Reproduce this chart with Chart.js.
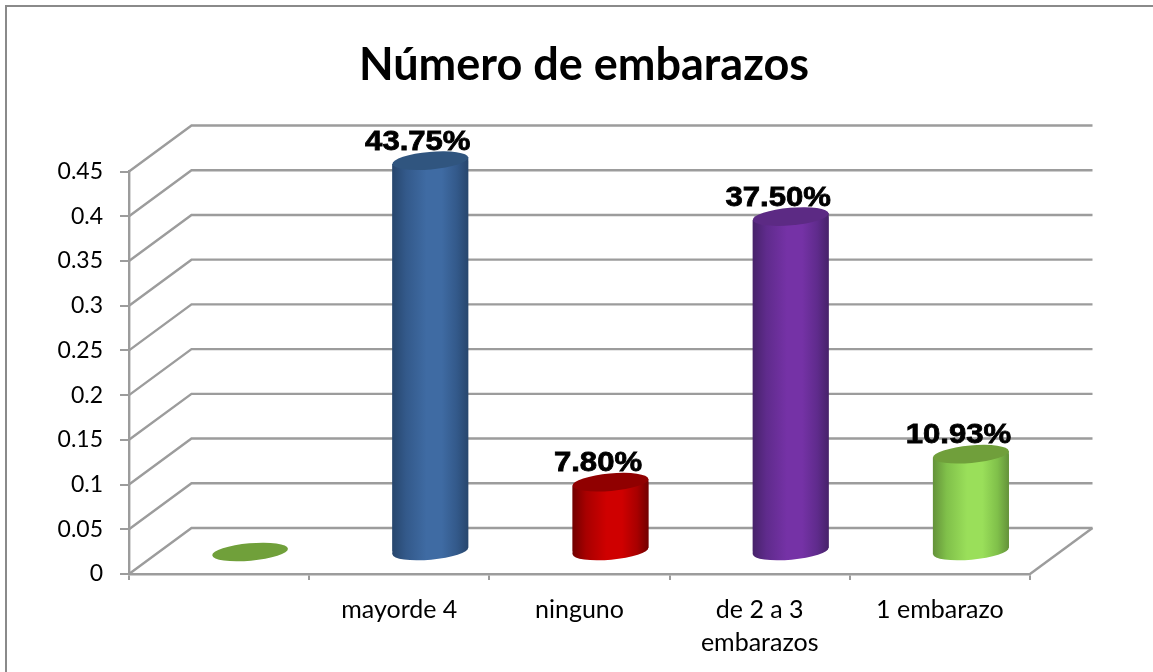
<!DOCTYPE html>
<html>
<head>
<meta charset="utf-8">
<style>html,body{margin:0;padding:0;background:#fff}canvas{display:block}</style>
<script src="https://cdn.jsdelivr.net/npm/chart.js@4"></script>
</head>
<body>
<div style="width:1153px;height:672px"><canvas id="c" width="1153" height="672"></canvas></div>
<script>
const categories = ['', 'mayorde 4', 'ninguno', ['de 2 a 3', 'embarazos'], '1 embarazo'];
const values = [0, 0.4375, 0.078, 0.375, 0.1093];
const valueLabels = ['', '43.75%', '7.80%', '37.50%', '10.93%'];
const edgeColors = ['#6b9a38', '#27466d', '#720000', '#47226a', '#64923a'];
const midColors = ['#6fa03a', '#33598a', '#a80000', '#5f2b8c', '#80c04a'];
const lightColors = ['#70a03a', '#3f6ba3', '#cf0000', '#7532a6', '#9adf5a'];
const topColors = ['#70a03a', '#30557f', '#900000', '#5c2a84', '#709f3b'];
const tickColor = '#9c9c9c';
const fontFamily = 'Lato, "Open Sans", sans-serif';
const depthX = 62.5, depthY = -46, barDx = 31, barDy = -22, rx = 38, ry = 8.8, tilt = -5 * Math.PI / 180;
const endDy = 3.3;

function barGradient(ctx, xl, xr, i) {
  const g = ctx.createLinearGradient(xl, 0, xr, 0);
  g.addColorStop(0, edgeColors[i]);
  g.addColorStop(0.18, midColors[i]);
  g.addColorStop(0.45, lightColors[i]);
  g.addColorStop(0.65, lightColors[i]);
  g.addColorStop(0.85, midColors[i]);
  g.addColorStop(1, edgeColors[i]);
  return g;
}
function bodyPath(ctx, el) {
  const xl = el.x - rx, xr = el.x + rx;
  ctx.moveTo(xl, el.y + endDy);
  ctx.lineTo(xr, el.y - endDy);
  ctx.lineTo(xr, el.base - endDy);
  ctx.lineTo(xl, el.base + endDy);
  ctx.closePath();
}
const cylinder3d = {
  id: 'cylinder3d',
  beforeDraw(chart) {
    const ctx = chart.ctx;
    ctx.save();
    ctx.strokeStyle = '#8a8a8a';
    ctx.lineWidth = 2;
    ctx.beginPath();
    ctx.moveTo(6, 672);
    ctx.lineTo(6, 6);
    ctx.lineTo(1153, 6);
    ctx.stroke();
    ctx.restore();
  },
  beforeDatasetsDraw(chart) {
    const ctx = chart.ctx, y = chart.scales.y, a = chart.chartArea;
    ctx.save();
    ctx.strokeStyle = tickColor;
    ctx.lineWidth = 2.4;
    y.ticks.forEach(t => {
      const py = y.getPixelForValue(t.value);
      ctx.beginPath();
      ctx.moveTo(a.left, py);
      ctx.lineTo(a.left + depthX, py + depthY);
      ctx.lineTo(a.right + depthX, py + depthY);
      ctx.stroke();
    });
    ctx.beginPath();
    ctx.moveTo(a.right, a.bottom);
    ctx.lineTo(a.right + depthX, a.bottom + depthY);
    ctx.stroke();
    ctx.restore();
  },
  beforeDatasetDraw(chart, args) {
    const ctx = chart.ctx;
    ctx.save();
    ctx.translate(barDx, barDy);
    args.meta.data.forEach((el, i) => {
      if (!values[i]) return;
      ctx.fillStyle = barGradient(ctx, el.x - rx, el.x + rx, i);
      ctx.beginPath();
      bodyPath(ctx, el);
      ctx.fill();
      ctx.beginPath();
      ctx.ellipse(el.x, el.base, rx, ry, tilt, 0, Math.PI * 2);
      ctx.fill();
    });
    ctx.beginPath();
    args.meta.data.forEach((el, i) => {
      if (!values[i]) return;
      bodyPath(ctx, el);
    });
    ctx.clip();
  },
  afterDatasetDraw(chart, args) {
    const ctx = chart.ctx;
    ctx.restore();
    ctx.save();
    ctx.translate(barDx, barDy);
    args.meta.data.forEach((el, i) => {
      ctx.fillStyle = topColors[i];
      ctx.beginPath();
      ctx.ellipse(el.x, el.y, rx, ry, tilt, 0, Math.PI * 2);
      ctx.fill();
    });
    ctx.restore();
    args.meta.data.forEach((el, i) => {
      if (!valueLabels[i]) return;
      ctx.save();
      ctx.translate(el.x + barDx - 12.5, el.y + barDy - 11);
      ctx.scale(1.11, 1);
      ctx.font = 'bold 28px "Liberation Sans", Arial, sans-serif';
      ctx.textAlign = 'center';
      ctx.textBaseline = 'alphabetic';
      ctx.fillStyle = '#000';
      ctx.strokeStyle = '#000';
      ctx.lineWidth = 0.8;
      ctx.strokeText(valueLabels[i], 0, 0);
      ctx.fillText(valueLabels[i], 0, 0);
      ctx.restore();
    });
  },
  afterLayout(chart) {
    if (chart.titleBlock) { chart.titleBlock.left += 69; chart.titleBlock.right += 69; }
  }
};

new Chart(document.getElementById('c'), {
  type: 'bar',
  data: {
    labels: categories,
    datasets: [{
      data: values,
      clip: false,
      borderWidth: 0,
      barPercentage: 76 / 180,
      categoryPercentage: 1,
      backgroundColor(c) {
        const x = c.chart.scales.x;
        if (!x || c.dataIndex === undefined) return '#888';
        const px = x.getPixelForValue(c.dataIndex);
        if (!Number.isFinite(px)) return '#888';
        return barGradient(c.chart.ctx, px - rx, px + rx, c.dataIndex);
      }
    }]
  },
  plugins: [cylinder3d],
  options: {
    responsive: false,
    animation: false,
    layout: { padding: { left: 0, right: 123, top: 0, bottom: 0 } },
    plugins: {
      legend: { display: false },
      tooltip: { enabled: false },
      title: {
        display: true,
        text: 'Número de embarazos',
        color: '#000',
        font: { family: fontFamily, size: 45, weight: 'bold', lineHeight: 1.2 },
        padding: { top: 38, bottom: 79.5 }
      }
    },
    scales: {
      x: {
        afterFit(s) { s.height = 98; },
        grid: { display: true, drawOnChartArea: false, drawTicks: true, tickLength: 6, color: tickColor, lineWidth: 2 },
        border: { display: true, color: tickColor, width: 2.4 },
        ticks: {
          color: '#000', autoSkip: false, maxRotation: 0, minRotation: 0, padding: 14,
          font: { family: fontFamily, size: 25, lineHeight: 1.3 }
        }
      },
      y: {
        min: 0, max: 0.45,
        afterFit(s) { s.width = 129; },
        grid: { display: true, drawOnChartArea: false, drawTicks: true, tickLength: 9, color: tickColor, lineWidth: 2 },
        border: { display: true, color: tickColor, width: 2.4 },
        ticks: {
          stepSize: 0.05, color: '#000', padding: 17,
          font: { family: fontFamily, size: 23 },
          callback(v) { return String(+Number(v).toFixed(2)); }
        }
      }
    }
  }
});
</script>
</body>
</html>
